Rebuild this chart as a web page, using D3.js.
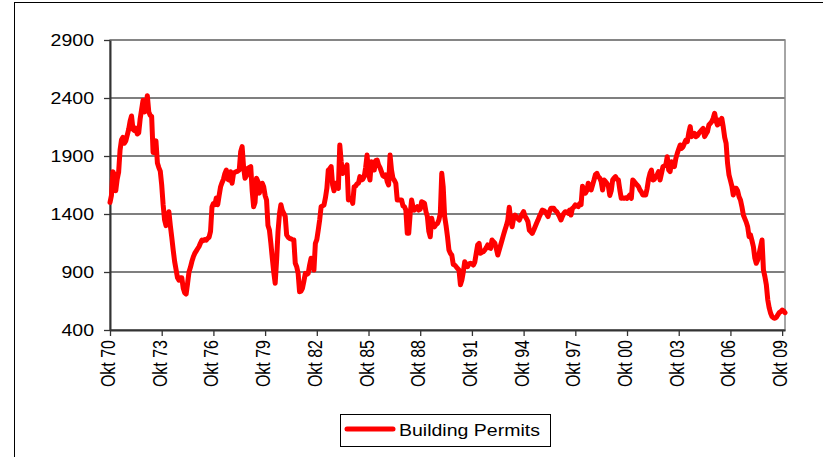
<!DOCTYPE html>
<html>
<head>
<meta charset="utf-8">
<script src="https://cdn.jsdelivr.net/npm/d3@7"></script>
<style>
    body { margin: 0; background: #ffffff; }
    svg { display: block; font-family: "Liberation Sans", Arial, sans-serif; }
</style>
</head>
<body>
<div id="chart"></div>
<script>
// monthly series, first point Okt 70
var seriesName = 'Building Permits';
var permits = [
    1500,1560,1765,1740,1600,1700,1760,1950,2040,2060,2010,2030,
    2080,2130,2200,2245,2130,2120,2140,2090,2100,2220,2300,2380,
    2280,2330,2420,2280,2250,2240,1930,1980,2030,1840,1800,1770,
    1650,1480,1350,1300,1370,1420,1300,1200,1090,990,920,850,
    830,850,850,760,720,710,800,900,940,990,1030,1060,
    1080,1100,1120,1150,1176,1170,1180,1175,1190,1200,1250,1460,
    1490,1480,1538,1480,1560,1635,1670,1700,1750,1779,1700,1693,
    1765,1665,1750,1760,1765,1770,1779,1938,1981,1808,1708,1730,
    1794,1800,1808,1600,1463,1500,1708,1680,1580,1620,1665,1635,
    1560,1521,1300,1262,1150,1020,900,803,1000,1250,1400,1480,
    1430,1406,1380,1219,1200,1190,1185,1180,1176,975,946,888,
    730,735,759,820,888,880,888,960,1018,960,917,1147,
    1180,1262,1350,1463,1470,1477,1540,1620,1779,1790,1808,1650,
    1600,1665,1640,1621,1995,1850,1750,1779,1790,1823,1521,1530,
    1535,1492,1635,1640,1660,1665,1722,1693,1700,1722,1800,1908,
    1750,1693,1851,1810,1779,1860,1865,1823,1800,1765,1730,1722,
    1736,1680,1650,1908,1780,1708,1690,1665,1521,1521,1521,1521,
    1470,1463,1434,1233,1233,1400,1521,1460,1434,1450,1463,1434,
    1440,1506,1500,1492,1420,1377,1250,1204,1363,1300,1290,1310,
    1319,1348,1406,1751,1635,1380,1300,1204,1090,1061,1046,965,
    960,946,930,917,790,830,900,989,960,946,970,975,
    970,960,985,1060,1133,1147,1061,1070,1075,1090,1110,1133,
    1110,1104,1176,1160,1147,1100,1046,1090,1133,1176,1220,1262,
    1300,1348,1458,1348,1290,1360,1391,1377,1360,1348,1377,1400,
    1420,1380,1360,1334,1260,1248,1233,1260,1290,1320,1348,1380,
    1406,1434,1430,1420,1400,1377,1420,1449,1449,1449,1430,1420,
    1400,1377,1348,1380,1406,1420,1415,1406,1434,1391,1449,1460,
    1478,1470,1463,1490,1480,1640,1600,1580,1600,1665,1640,1607,
    1650,1693,1740,1751,1722,1710,1679,1607,1693,1680,1665,1640,
    1560,1600,1693,1710,1722,1700,1693,1607,1535,1540,1535,1540,
    1535,1550,1564,1535,1693,1680,1665,1650,1636,1607,1590,1564,
    1564,1564,1620,1700,1751,1779,1693,1700,1722,1740,1765,1693,
    1750,1808,1815,1822,1894,1780,1765,1851,1830,1808,1880,1923,
    1960,1995,1966,1980,2009,2038,2024,2100,2153,2067,2080,2095,
    2067,2075,2095,2110,2124,2138,2067,2090,2110,2167,2181,2196,
    2225,2268,2200,2167,2210,2181,2225,2150,2060,2009,1837,1737,
    1690,1640,1564,1622,1622,1600,1549,1521,1463,1391,1360,1330,
    1290,1204,1219,1170,1118,1020,975,1003,1060,1118,1176,917,
    860,790,660,590,544,515,505,501,510,530,550,558,
    572,565,549
];
var tickLabels = ['Okt 70','Okt 73','Okt 76','Okt 79','Okt 82','Okt 85','Okt 88',
                  'Okt 91','Okt 94','Okt 97','Okt 00','Okt 03','Okt 06','Okt 09'];
var yTicks = [400, 900, 1400, 1900, 2400, 2900];
var monthsPerTick = 36;

var W = 823, H = 457;
var plotLeft = 110, plotRight = 785, plotTop = 40, plotBottom = 330;
var stretch = 1.22; // text in the picture is a bit wide

var svg = d3.select('#chart').append('svg').attr('width', W).attr('height', H);

// chart frame (runs off the right and bottom edge)
svg.append('rect').attr('x', 14.5).attr('y', 2.5).attr('width', 900).attr('height', 600)
    .attr('fill', 'none').attr('stroke', '#000').attr('stroke-width', 1);

var x = d3.scaleLinear().domain([0, permits.length - 1]).range([plotLeft, plotRight]);
var y = d3.scaleLinear().domain([400, 2900]).range([plotBottom, plotTop]);

// grid
svg.append('g').selectAll('line').data(yTicks).enter().append('line')
    .attr('x1', plotLeft).attr('x2', plotRight)
    .attr('y1', function(d){ return y(d); }).attr('y2', function(d){ return y(d); })
    .attr('stroke', '#555').attr('stroke-width', 1.4);

// plot area border
svg.append('rect').attr('x', plotLeft).attr('y', plotTop)
    .attr('width', plotRight - plotLeft).attr('height', plotBottom - plotTop)
    .attr('fill', 'none').attr('stroke', '#888').attr('stroke-width', 1.5);

// y axis
var yAxis = svg.append('g').attr('transform', 'translate(' + plotLeft + ',0)')
    .call(d3.axisLeft(y).tickValues(yTicks).tickSize(6).tickSizeOuter(0).tickFormat(''));
yAxis.select('.domain').attr('stroke', '#333').attr('stroke-width', 2);
yAxis.selectAll('.tick line').attr('stroke', '#333').attr('stroke-width', 1.3);

svg.append('g').selectAll('text').data(yTicks).enter().append('text')
    .attr('transform', function(d){ return 'translate(94,' + y(d) + ') scale(' + stretch + ',1)'; })
    .attr('dy', '0.36em').attr('text-anchor', 'end')
    .attr('font-size', 16).attr('fill', '#000')
    .text(function(d){ return d; });

// x axis
var tickIdx = tickLabels.map(function(t, i){ return i * monthsPerTick; });
var xAxis = svg.append('g').attr('transform', 'translate(0,' + plotBottom + ')')
    .call(d3.axisBottom(x).tickValues(tickIdx).tickSize(6).tickSizeOuter(0).tickFormat(''));
xAxis.select('.domain').attr('stroke', '#333').attr('stroke-width', 2);
xAxis.selectAll('.tick line').attr('stroke', '#333').attr('stroke-width', 1.3);

svg.append('g').selectAll('text').data(tickIdx).enter().append('text')
    .attr('transform', function(d){
        return 'translate(' + (x(d) + 5) + ',' + (plotBottom + 10) + ') scale(' + stretch + ',1) rotate(-90)';
    })
    .attr('text-anchor', 'end').attr('font-size', 16).attr('fill', '#000')
    .text(function(d, i){ return tickLabels[i]; });

// series
var line = d3.line()
    .x(function(d, i){ return x(i); })
    .y(function(d){ return y(d); });

svg.append('path').datum(permits)
    .attr('d', line)
    .attr('fill', 'none')
    .attr('stroke', '#ff0000')
    .attr('stroke-width', 5)
    .attr('stroke-linejoin', 'round')
    .attr('stroke-linecap', 'round');

// legend
var legend = svg.append('g');
legend.append('rect').attr('x', 340.5).attr('y', 414.5).attr('width', 210).attr('height', 32)
    .attr('fill', '#fff').attr('stroke', '#000').attr('stroke-width', 1);
legend.append('line').attr('x1', 347).attr('x2', 393).attr('y1', 429).attr('y2', 429)
    .attr('stroke', '#ff0000').attr('stroke-width', 5).attr('stroke-linecap', 'round');
legend.append('text')
    .attr('transform', 'translate(399,436) scale(' + stretch + ',1)')
    .attr('font-size', 16).attr('fill', '#000')
    .text(seriesName);
</script>
</body>
</html>
